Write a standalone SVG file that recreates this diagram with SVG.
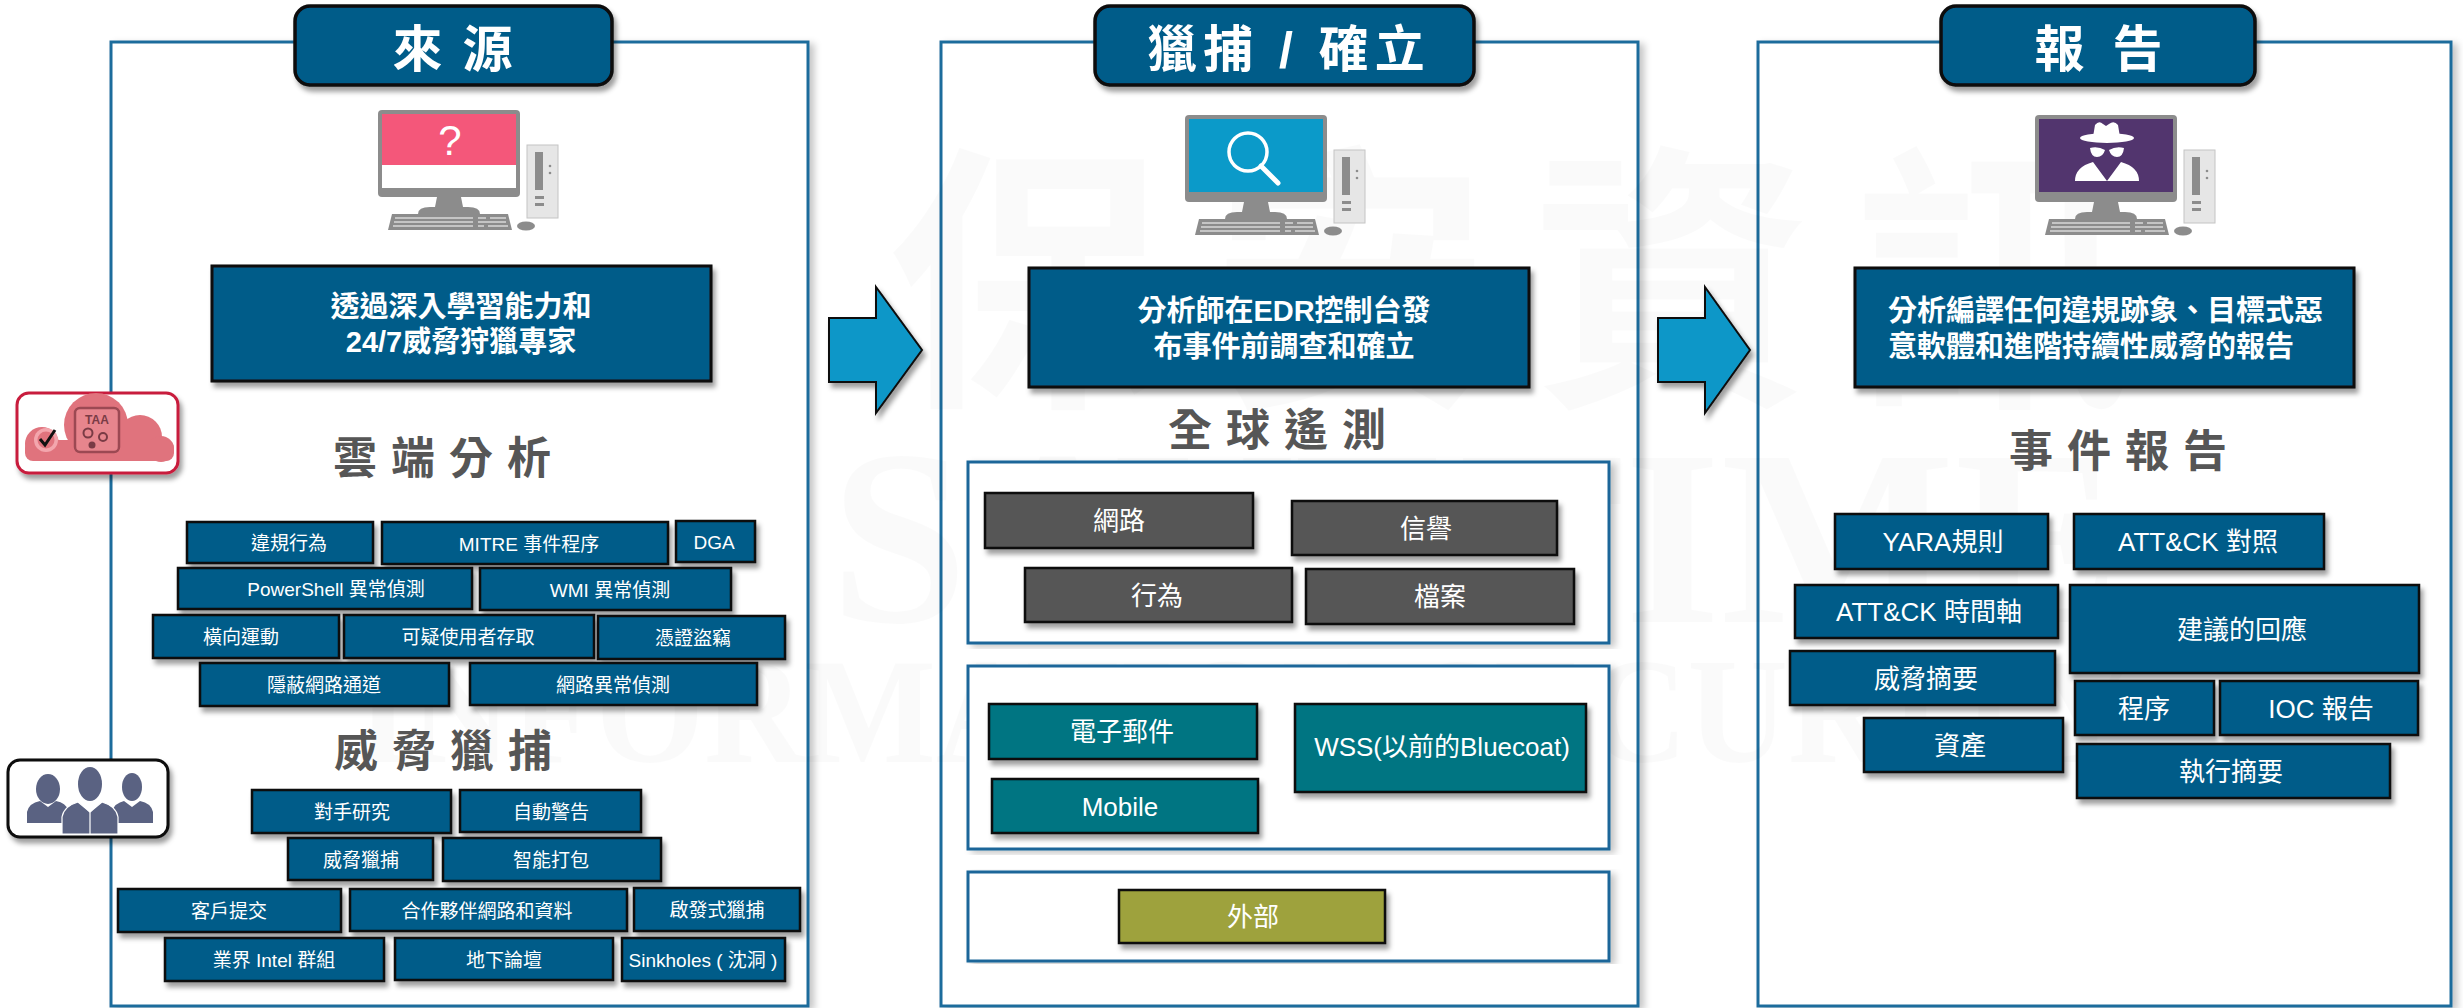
<svg xmlns="http://www.w3.org/2000/svg" width="2463" height="1008" viewBox="0 0 2463 1008">
<defs>
<style>
text{font-family:"Liberation Sans","Noto Sans CJK TC",sans-serif}
.pf{fill:#fff;stroke:#1f6c9c;stroke-width:3}
.tb{fill:#045b89;stroke:#0a0a0a;stroke-width:3.5}
.tt{font-size:50px;font-weight:700;fill:#fff;text-anchor:middle}
.hd{font-size:44px;font-weight:700;fill:#565656;letter-spacing:14px;text-anchor:middle}
.db{fill:#045b89;stroke:#0a0a0a;stroke-width:3}
.dt{font-size:29px;font-weight:700;fill:#fff}
.bl{fill:#045b89;stroke:#0a0a0a;stroke-width:2.5}
.gr{fill:#575757;stroke:#0a0a0a;stroke-width:2.5}
.tl{fill:#047582;stroke:#0a0a0a;stroke-width:2.5}
.ol{fill:#9ea23c;stroke:#0a0a0a;stroke-width:2.5}
.fr{fill:#fff;stroke:#1c6699;stroke-width:3}
.s{font-size:19px;fill:#fff;text-anchor:middle}
.m{font-size:26px;fill:#fff;text-anchor:middle}
.ar{fill:#0a97c8;stroke:#0a0a0a;stroke-width:2}
.wm{fill:#000;fill-opacity:0.018;font-weight:700}
.pcg{fill:#8c8c8c}
.key{stroke:#d8d8d8;stroke-width:1.5;fill:none}
.ppl{fill:#5a6282}
</style>
<filter id="sh" x="-20%" y="-25%" width="140%" height="170%">
<feDropShadow dx="3" dy="5" stdDeviation="2.5" flood-color="#000" flood-opacity="0.38"/>
</filter>
<filter id="psh" x="-3%" y="-3%" width="106%" height="106%">
<feDropShadow dx="5" dy="3" stdDeviation="3.5" flood-color="#000" flood-opacity="0.22"/>
</filter>
<!-- desktop computer: bezel origin at top-left -->
<g id="pc">
<rect class="pcg" x="0" y="0" width="142" height="87" rx="4"/>
<path class="pcg" d="M59 87h24l2 10H57z"/>
<path class="pcg" d="M40 104q0-7 12-7h38q12 0 12 7z"/>
<path class="pcg" d="M14 104h116l4 16H10z"/>
<path class="key" d="M17 108h78M16 112h79M15 116h80M100 108h8M112 108h16M100 112h28M100 116h6M110 116h20"/>
<rect x="149" y="35" width="31" height="73" fill="#e6e6e6" stroke="#c4c4c4"/>
<rect class="pcg" x="157" y="42" width="8" height="38"/>
<circle class="pcg" cx="172" cy="56" r="1.3"/>
<circle class="pcg" cx="172" cy="63" r="1.3"/>
<rect class="pcg" x="157" y="86" width="9" height="3"/>
<rect class="pcg" x="157" y="93" width="9" height="3"/>
<ellipse class="pcg" cx="148" cy="116" rx="9" ry="4.5"/>
</g>
</defs>

<rect width="2463" height="1008" fill="#fff"/>

<!-- column frames -->
<g id="panels">
<rect class="pf" x="111" y="42" width="697" height="964" filter="url(#psh)"/>
<rect class="pf" x="941" y="42" width="697" height="964" filter="url(#psh)"/>
<rect class="pf" x="1758" y="42" width="693" height="964" filter="url(#psh)"/>
</g>

<!-- faint background watermark -->
<g id="watermark">
<text class="wm" x="888" y="385" font-size="280" letter-spacing="42">保安資訊</text>
<text class="wm" x="830" y="622" font-size="250" style="font-family:'Liberation Serif',serif" textLength="1290" lengthAdjust="spacingAndGlyphs">SAVETIME</text>
<text class="wm" x="356" y="762" font-size="150" style="font-family:'Liberation Serif',serif" textLength="1780" lengthAdjust="spacingAndGlyphs">INFORMATION SECURITY</text>
</g>

<!-- column 1: sources -->
<g id="src-pc">
<g transform="translate(378,110)">
<use href="#pc"/>
<rect x="4" y="4" width="134" height="51" fill="#f4577a"/>
<rect x="4" y="55" width="134" height="23" fill="#fff"/>
<text x="72" y="45" font-size="42" fill="#fff" text-anchor="middle">?</text>
</g>
</g>
<g id="src-desc">
<rect class="db" x="212" y="266" width="499" height="115" filter="url(#sh)"/>
<text class="dt" x="461" y="317" text-anchor="middle">透過深入學習能力和</text>
<text class="dt" x="461" y="352" text-anchor="middle">24/7威脅狩獵專家</text>
</g>
<g id="cloud-badge">
<rect x="17" y="393" width="161" height="80" rx="12" fill="#fff" stroke="#c81e3c" stroke-width="3" filter="url(#sh)"/>
<g fill="#e0737d">
<circle cx="42" cy="444" r="17"/>
<circle cx="96" cy="425" r="32"/>
<circle cx="140" cy="437" r="22"/>
<circle cx="161" cy="449" r="13"/>
<rect x="25" y="440" width="149" height="21" rx="8"/>
</g>
<circle cx="46" cy="440" r="12" fill="#f3a6ad"/>
<circle cx="46" cy="440" r="8.5" fill="#e0737d"/>
<path d="M40 439l5 6 10-15" fill="none" stroke="#111" stroke-width="3"/>
<rect x="75" y="408" width="44" height="44" rx="5" fill="#e7858d" stroke="#9c4953" stroke-width="2.5"/>
<text x="97" y="424" font-size="12" font-weight="700" fill="#7a3b45" text-anchor="middle">TAA</text>
<circle cx="88" cy="433" r="4.5" fill="none" stroke="#7a3b45" stroke-width="2"/>
<circle cx="103" cy="437" r="4" fill="none" stroke="#7a3b45" stroke-width="2"/>
<circle cx="92" cy="445" r="3.5" fill="#7a3b45"/>
</g>
<text id="h-cloud" class="hd" x="449" y="474">雲端分析</text>

<g id="n-violation"><rect class="bl" x="187" y="522" width="186" height="41" filter="url(#sh)"/><text class="s" x="289" y="550">違規行為</text></g>
<g id="n-mitre"><rect class="bl" x="382" y="522" width="286" height="42" filter="url(#sh)"/><text class="s" x="529" y="550.5">MITRE 事件程序</text></g>
<g id="n-dga"><rect class="bl" x="676" y="521" width="79" height="41" filter="url(#sh)"/><text class="s" x="714" y="549">DGA</text></g>
<g id="n-powershell"><rect class="bl" x="178" y="568" width="294" height="41" filter="url(#sh)"/><text class="s" x="336" y="596">PowerShell 異常偵測</text></g>
<g id="n-wmi"><rect class="bl" x="480" y="568" width="251" height="42" filter="url(#sh)"/><text class="s" x="610" y="596.5">WMI 異常偵測</text></g>
<g id="n-lateral"><rect class="bl" x="153" y="615" width="186" height="43" filter="url(#sh)"/><text class="s" x="241" y="644">橫向運動</text></g>
<g id="n-access"><rect class="bl" x="344" y="615" width="250" height="43" filter="url(#sh)"/><text class="s" x="468" y="644">可疑使用者存取</text></g>
<g id="n-cred"><rect class="bl" x="598" y="616" width="187" height="43" filter="url(#sh)"/><text class="s" x="693" y="645">憑證盜竊</text></g>
<g id="n-tunnel"><rect class="bl" x="200" y="663" width="249" height="43" filter="url(#sh)"/><text class="s" x="324" y="692">隱蔽網路通道</text></g>
<g id="n-netanom"><rect class="bl" x="470" y="663" width="287" height="42" filter="url(#sh)"/><text class="s" x="613" y="691.5">網路異常偵測</text></g>

<text id="h-hunt" class="hd" x="450" y="767">威脅獵捕</text>

<g id="people-badge">
<rect x="8" y="760" width="160" height="77" rx="12" fill="#fff" stroke="#0a0a0a" stroke-width="3" filter="url(#sh)"/>
<ellipse class="ppl" cx="48" cy="789" rx="12" ry="15"/>
<path class="ppl" d="M27 823v-11q2-9 13-11l8 6 8-6q10 2 12 9v13z"/>
<ellipse class="ppl" cx="132" cy="787" rx="10" ry="14"/>
<path class="ppl" d="M112 823v-12q3-8 12-10l8 6 8-6q11 2 13 11v11z"/>
<ellipse class="ppl" cx="90" cy="784" rx="12" ry="17"/>
<path class="ppl" d="M62 834v-17q2-11 16-15l12 10 12-10q14 4 16 15v17z" stroke="#fff" stroke-width="1.2"/>
<path d="M82 803l8 9 8-9M90 812v22" fill="none" stroke="#fff" stroke-width="1.2"/>
</g>

<g id="n-adversary"><rect class="bl" x="252" y="790" width="199" height="43" filter="url(#sh)"/><text class="s" x="352" y="819">對手研究</text></g>
<g id="n-autoalert"><rect class="bl" x="460" y="790" width="181" height="42" filter="url(#sh)"/><text class="s" x="551" y="818.5">自動警告</text></g>
<g id="n-threathunt"><rect class="bl" x="288" y="838" width="145" height="42" filter="url(#sh)"/><text class="s" x="361" y="866.5">威脅獵捕</text></g>
<g id="n-packaging"><rect class="bl" x="443" y="838" width="218" height="43" filter="url(#sh)"/><text class="s" x="551" y="867">智能打包</text></g>
<g id="n-customer"><rect class="bl" x="118" y="889" width="223" height="43" filter="url(#sh)"/><text class="s" x="229" y="918">客戶提交</text></g>
<g id="n-partner"><rect class="bl" x="350" y="889" width="277" height="42" filter="url(#sh)"/><text class="s" x="487" y="917.5">合作夥伴網路和資料</text></g>
<g id="n-heuristic"><rect class="bl" x="634" y="888" width="166" height="43" filter="url(#sh)"/><text class="s" x="717" y="917">啟發式獵捕</text></g>
<g id="n-intel"><rect class="bl" x="165" y="938" width="219" height="43" filter="url(#sh)"/><text class="s" x="274" y="967">業界 Intel 群組</text></g>
<g id="n-forum"><rect class="bl" x="395" y="938" width="218" height="42" filter="url(#sh)"/><text class="s" x="504" y="966.5">地下論壇</text></g>
<g id="n-sinkhole"><rect class="bl" x="622" y="938" width="163" height="43" filter="url(#sh)"/><text class="s" x="703" y="967">Sinkholes ( 沈洞 )</text></g>

<!-- column 2: hunting / confirmation -->
<g id="hunt-pc">
<g transform="translate(1185,115)">
<use href="#pc"/>
<rect x="4" y="4" width="134" height="73" fill="#0b9ac9"/>
<circle cx="63" cy="37" r="19" fill="none" stroke="#fff" stroke-width="3.5"/>
<path d="M76 51l17 17" stroke="#fff" stroke-width="5" stroke-linecap="round"/>
</g>
</g>
<g id="hunt-desc">
<rect class="db" x="1029" y="268" width="500" height="119" filter="url(#sh)"/>
<text class="dt" x="1284" y="321" text-anchor="middle">分析師在EDR控制台發</text>
<text class="dt" x="1284" y="357" text-anchor="middle">布事件前調查和確立</text>
</g>
<text id="h-telemetry" class="hd" x="1284" y="446">全球遙測</text>

<g id="grp-telemetry"><rect class="fr" x="968" y="462" width="641" height="181" filter="url(#psh)"/></g>
<g id="grp-channels"><rect class="fr" x="968" y="666" width="641" height="183" filter="url(#psh)"/></g>
<g id="grp-external"><rect class="fr" x="968" y="872" width="641" height="89" filter="url(#psh)"/></g>

<g id="n-network"><rect class="gr" x="985" y="493" width="268" height="55" filter="url(#sh)"/><text class="m" x="1119" y="530">網路</text></g>
<g id="n-reputation"><rect class="gr" x="1292" y="501" width="265" height="54" filter="url(#sh)"/><text class="m" x="1426" y="537.5">信譽</text></g>
<g id="n-behavior"><rect class="gr" x="1025" y="568" width="267" height="54" filter="url(#sh)"/><text class="m" x="1157" y="604.5">行為</text></g>
<g id="n-file"><rect class="gr" x="1306" y="569" width="268" height="55" filter="url(#sh)"/><text class="m" x="1440" y="606">檔案</text></g>
<g id="n-email"><rect class="tl" x="989" y="704" width="268" height="55" filter="url(#sh)"/><text class="m" x="1122" y="741">電子郵件</text></g>
<g id="n-mobile"><rect class="tl" x="992" y="779" width="266" height="54" filter="url(#sh)"/><text class="m" x="1120" y="815.5">Mobile</text></g>
<g id="n-wss"><rect class="tl" x="1295" y="704" width="291" height="88" filter="url(#sh)"/><text class="m" x="1442" y="756">WSS(以前的Bluecoat)</text></g>
<g id="n-external"><rect class="ol" x="1119" y="890" width="266" height="53" filter="url(#sh)"/><text class="m" x="1253" y="926">外部</text></g>

<!-- column 3: reporting -->
<g id="report-pc">
<g transform="translate(2035,115)">
<use href="#pc"/>
<rect x="4" y="4" width="134" height="73" fill="#52356e"/>
<path d="M58 22l2-12q4-5 8-1l3 2 3-2q5-4 9 1l2 12z" fill="#fff"/>
<ellipse cx="72" cy="23" rx="27" ry="5" fill="#fff"/>
<path d="M55 33q8-2 15 2q-2 7-8 7q-6 0-7-9zM89 33q-8-2-15 2q2 7 8 7q6 0 7-9z" fill="#fff"/>
<path d="M40 66q0-14 18-19l14 19 14-19q18 5 18 19z" fill="#fff"/>
</g>
</g>
<g id="report-desc">
<rect class="db" x="1855" y="268" width="499" height="119" filter="url(#sh)"/>
<text class="dt" x="1888" y="321">分析編譯任何違規跡象、目標式惡</text>
<text class="dt" x="1888" y="357">意軟體和進階持續性威脅的報告</text>
</g>
<text id="h-report" class="hd" x="2125" y="467">事件報告</text>

<g id="n-yara"><rect class="bl" x="1835" y="514" width="213" height="55" filter="url(#sh)"/><text class="m" x="1943" y="551">YARA規則</text></g>
<g id="n-attck-map"><rect class="bl" x="2074" y="514" width="250" height="55" filter="url(#sh)"/><text class="m" x="2198" y="551">ATT&amp;CK 對照</text></g>
<g id="n-attck-time"><rect class="bl" x="1795" y="585" width="263" height="53" filter="url(#sh)"/><text class="m" x="1929" y="621">ATT&amp;CK 時間軸</text></g>
<g id="n-response"><rect class="bl" x="2070" y="585" width="349" height="88" filter="url(#sh)"/><text class="m" x="2242" y="639">建議的回應</text></g>
<g id="n-threat-sum"><rect class="bl" x="1790" y="651" width="265" height="54" filter="url(#sh)"/><text class="m" x="1926" y="687.5">威脅摘要</text></g>
<g id="n-procedure"><rect class="bl" x="2075" y="681" width="139" height="54" filter="url(#sh)"/><text class="m" x="2144" y="717.5">程序</text></g>
<g id="n-ioc"><rect class="bl" x="2220" y="681" width="198" height="54" filter="url(#sh)"/><text class="m" x="2321" y="717.5">IOC 報告</text></g>
<g id="n-assets"><rect class="bl" x="1864" y="718" width="199" height="54" filter="url(#sh)"/><text class="m" x="1960" y="754.5">資產</text></g>
<g id="n-exec-sum"><rect class="bl" x="2077" y="744" width="313" height="54" filter="url(#sh)"/><text class="m" x="2231" y="780.5">執行摘要</text></g>

<!-- flow arrows between columns -->
<g id="connectors">
<path class="ar" d="M829 318h47v-31l46 63-46 63v-31h-47z" filter="url(#sh)"/>
<path class="ar" d="M1658 318h47v-31l45 63-45 63v-31h-47z" filter="url(#sh)"/>
</g>

<!-- column headers -->
<g id="title-source"><rect class="tb" x="295" y="6" width="317" height="79" rx="15" filter="url(#sh)"/><text class="tt" x="454" y="67" letter-spacing="3">來 源</text></g>
<g id="title-hunt"><rect class="tb" x="1095" y="6" width="379" height="79" rx="15" filter="url(#sh)"/><text class="tt" x="1289" y="67" letter-spacing="6" xml:space="preserve">獵捕 / 確立</text></g>
<g id="title-report"><rect class="tb" x="1941" y="6" width="314" height="79" rx="15" filter="url(#sh)"/><text class="tt" x="2102" y="67" letter-spacing="7">報 告</text></g>
</svg>
